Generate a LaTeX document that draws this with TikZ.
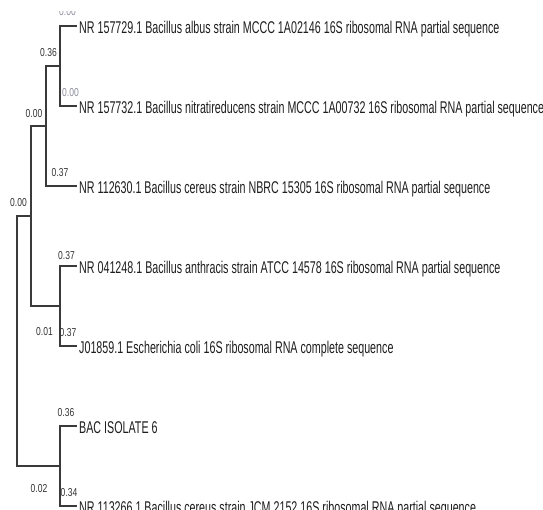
\documentclass[tikz,border=0pt]{standalone}
\usepackage{fontspec}
\setmainfont{Liberation Sans}
\definecolor{treeline}{HTML}{3A3A3A}
\definecolor{lbl}{HTML}{333333}
\definecolor{lblpale}{HTML}{8C8C9C}
\definecolor{leaftxt}{HTML}{1E1E1E}
\newcommand\leafname[1]{\scalebox{0.63}[1]{\fontsize{17}{19}\selectfont #1}}
\newcommand\brlen[1]{\scalebox{0.74}[1]{\fontsize{11.5}{12}\selectfont #1}}
\begin{document}
\begin{tikzpicture}[x=1pt,y=-1pt,
  branch/.style={draw=treeline,line width=1.1pt},
  leaf/.style={anchor=west,inner xsep=2pt,inner ysep=0pt,text height=18pt,text depth=3pt,text=leaftxt},
  blen/.style={inner sep=0pt,text=lbl},
  pale/.style={text=lblpale}]
\useasboundingbox (0,0) rectangle (543,510);
\clip (0,0) rectangle (543,510);

% leaves
\node[leaf] (L1) at (77,26)  {\leafname{NR 157729.1 Bacillus albus strain MCCC 1A02146 16S ribosomal RNA partial sequence}};
\node[leaf] (L2) at (77,106) {\leafname{NR 157732.1 Bacillus nitratireducens strain MCCC 1A00732 16S ribosomal RNA partial sequence}};
\node[leaf] (L3) at (77,186) {\leafname{NR 112630.1 Bacillus cereus strain NBRC 15305 16S ribosomal RNA partial sequence}};
\node[leaf] (L4) at (77,266) {\leafname{NR 041248.1 Bacillus anthracis strain ATCC 14578 16S ribosomal RNA partial sequence}};
\node[leaf] (L5) at (77,346) {\leafname{J01859.1 Escherichia coli 16S ribosomal RNA complete sequence}};
\node[leaf] (L6) at (77,426) {\leafname{BAC ISOLATE 6}};
\node[leaf] (L7) at (77,506) {\leafname{NR 113266.1 Bacillus cereus strain JCM 2152 16S ribosomal RNA partial sequence}};

% internal nodes
\coordinate (nA) at (60,66);
\coordinate (nB) at (46,126);
\coordinate (nC) at (31,216);
\coordinate (nD) at (60,306);
\coordinate (nE) at (60,466);
\coordinate (nR) at (17,341);

% branches
\draw[branch] (L1.west) -| (nA) |- (L2.west);
\draw[branch] (nA) -| (nB) |- (L3.west);
\draw[branch] (nB) -| (nC) |- (nD);
\draw[branch] (L4.west) -| (nD) |- (L5.west);
\draw[branch] (nC) -| (nR) |- (nE);
\draw[branch] (L6.west) -| (nE) |- (L7.west);

% branch lengths
\begin{scope}
  \clip (40,11.5) rectangle (100,30);
  \node[blen,pale] (b1) at (67.5,12) {\brlen{0.00}};
\end{scope}
\node[blen] (bA) at (48.5,53) {\brlen{0.36}};
\node[blen,pale] (b2) at (70.5,92.5) {\brlen{0.00}};
\node[blen] (bB) at (34,113.5) {\brlen{0.00}};
\node[blen] (b3) at (60,173) {\brlen{0.37}};
\node[blen] (bC) at (18.5,203) {\brlen{0.00}};
\node[blen] (b4) at (66.5,255.5) {\brlen{0.37}};
\node[blen] (bD) at (44.5,332) {\brlen{0.01}};
\node[blen] (b5) at (68,333) {\brlen{0.37}};
\node[blen] (b6) at (66,413) {\brlen{0.36}};
\node[blen] (bE) at (39,489) {\brlen{0.02}};
\node[blen] (b7) at (69,493) {\brlen{0.34}};
\end{tikzpicture}
\end{document}
